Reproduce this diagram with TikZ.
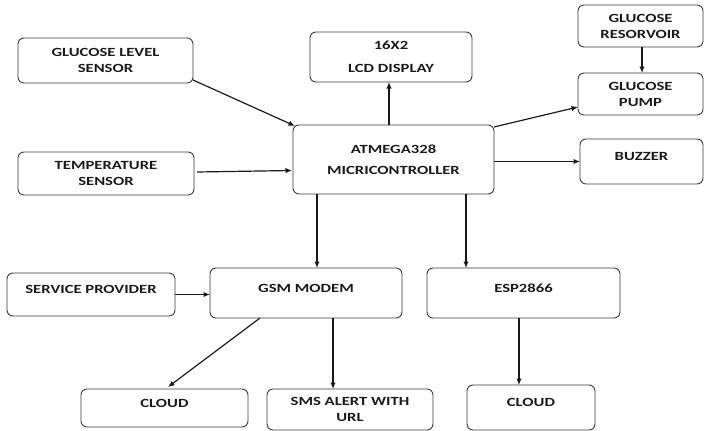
\documentclass[tikz,border=0pt]{standalone}
\usepackage{fontspec}
\newfontfamily\lbl[FakeStretch=1.33]{Carlito}
\usetikzlibrary{arrows.meta,calc}
\definecolor{ink}{HTML}{1A1A1A}
\definecolor{edge}{HTML}{3A3A3A}
\begin{document}
\begin{tikzpicture}[x=1pt,y=-1pt,
  box/.style={draw=edge,line width=0.9pt,rounded corners=6pt,inner sep=0pt,outer sep=0pt,
    font=\lbl\bfseries\fontsize{12.5}{16}\selectfont,text=ink,align=center},
  one/.style={text height=9pt,text depth=10.6pt},
  arr/.style={draw=ink,line width=1.2pt,-{Latex[length=6.5pt,width=5.5pt]}}]
\useasboundingbox (0,0) rectangle (705,431);
% boxes
\node[box,minimum width=175,minimum height=45] (gls) at (105.5,60.5) {GLUCOSE LEVEL\\SENSOR};
\node[box,minimum width=176,minimum height=43] (temp) at (106,173.5) {TEMPERATURE\\SENSOR};
\node[box,minimum width=201,minimum height=69,font=\lbl\bfseries\fontsize{12.5}{21}\selectfont] (mcu) at (393.5,159.5) {ATMEGA328\\MICRICONTROLLER};
\node[box,minimum width=162,minimum height=50,font=\lbl\bfseries\fontsize{12.5}{23}\selectfont] (lcd) at (391,57) {16X2\\LCD DISPLAY};
\node[box,minimum width=125,minimum height=42] (res) at (640.5,26) {GLUCOSE\\RESORVOIR};
\node[box,minimum width=125,minimum height=42] (pump) at (640.5,94) {GLUCOSE\\PUMP};
\node[box,one,minimum width=123,minimum height=45] (buzz) at (641.5,161.5) {BUZZER};
\node[box,one,minimum width=168,minimum height=43] (sp) at (91,294.5) {SERVICE PROVIDER};
\node[box,one,minimum width=192,minimum height=50] (gsm) at (306,293) {GSM MODEM};
\node[box,one,minimum width=193,minimum height=50] (esp) at (523.5,293) {ESP2866};
\node[box,one,minimum width=167,minimum height=38] (cloudA) at (164.5,408) {CLOUD};
\node[box,minimum width=166,minimum height=41] (sms) at (350,409.5) {SMS ALERT WITH\\URL};
\node[box,one,minimum width=128,minimum height=45] (cloudB) at (531,407.5) {CLOUD};
% connectors
\draw[arr] ($(gls.south east)+(0,-3)$) -- ($(mcu.north west)+(2,1)$);
\draw[arr] ($(temp.east)+(3,-1.5)$) -- ($(mcu.west)+(-1,11)$);
\draw[arr] ($(mcu.north)+(-4.5,0)$) -- ($(lcd.south)+(-2,0)$);
\draw[arr] ($(res.south)+(1.5,0)$) -- ($(pump.north)+(1.5,0)$);
\draw[arr] ($(mcu.north east)+(0,2)$) -- ($(pump.south west)+(0,-8)$);
\draw[arr] (buzz.west -| mcu.east) -- (buzz.west);
\draw[arr] ($(mcu.south west)+(24,0)$) coordinate (m1) -- (m1 |- gsm.north);
\draw[arr] ($(mcu.south east)+(-28,0)$) coordinate (m2) -- (m2 |- esp.north);
\draw[arr] (sp.east) -- (sp.east -| gsm.west);
\draw[arr] ($(gsm.south west)+(50,0)$) -- ($(cloudA.north)+(3.5,-2)$);
\draw[arr] ($(gsm.south)+(27,0)$) coordinate (g1) -- (g1 |- sms.north);
\draw[arr] ($(esp.south)+(-4.5,0)$) coordinate (e1) -- (e1 |- cloudB.north);
\end{tikzpicture}
\end{document}
